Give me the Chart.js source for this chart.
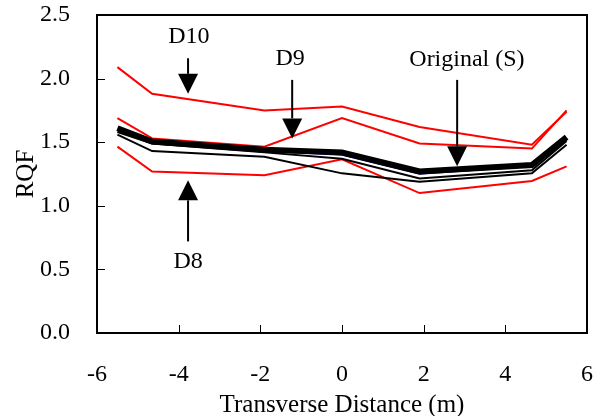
<!DOCTYPE html>
<html>
<head>
  <title>RQF vs Transverse Distance</title>
  <style>
    body { margin: 0; background: #fff; }
    .chart { width: 602px; height: 416px; }
  </style>
  <script src="https://cdn.jsdelivr.net/npm/chart.js"></script>
</head>
<body>
  <div class="chart">
    <canvas id="rqfChart"></canvas>
  </div>
  <script>
    // transverse positions (m)
    const distances = [-5.5, -4.65, -1.9, 0, 1.9, 4.65, 5.5];

    // red cases
    const d10 = [2.09, 1.88, 1.75, 1.78, 1.62, 1.48, 1.74];
    const d9 = [1.69, 1.53, 1.465, 1.69, 1.49, 1.45, 1.75];
    const d8 = [1.465, 1.27, 1.24, 1.365, 1.10, 1.195, 1.31];

    // black cases
    const original = [1.61, 1.505, 1.44, 1.42, 1.27, 1.32, 1.54];
    const blueCase = [1.60, 1.49, 1.43, 1.40, 1.25, 1.31, 1.53];
    const blackA = [1.58, 1.49, 1.42, 1.37, 1.215, 1.28, 1.51];
    const blackB = [1.56, 1.43, 1.385, 1.255, 1.19, 1.255, 1.48];

    const xTicks = [-6, -4, -2, 0, 2, 4, 6];
    const yTicks = [0, 0.5, 1.0, 1.5, 2.0, 2.5];

    // annotation labels: text position, arrow start, arrow tip (data units)
    const labels = [
      { text: 'D10', tx: -3.75, ty: 2.33, ax: -3.77, y0: 2.16, y1: 1.88 },
      { text: 'D9', tx: -1.27, ty: 2.16, ax: -1.22, y0: 1.99, y1: 1.53 },
      { text: 'Original (S)', tx: 3.06, ty: 2.15, ax: 2.82, y0: 1.99, y1: 1.31 },
      { text: 'D8', tx: -3.77, ty: 0.56, ax: -3.77, y0: 0.72, y1: 1.20 }
    ];

    const FONT = '"Liberation Serif", "Times New Roman", serif';

    function pts(ys) {
      return distances.map((x, i) => ({ x: x, y: ys[i] }));
    }

    function line(label, ys, color, width) {
      return {
        label: label,
        data: pts(ys),
        borderColor: color,
        borderWidth: width,
        pointRadius: 0,
        tension: 0,
        fill: false
      };
    }

    // box, inward ticks, arrows and labels
    const decor = {
      id: 'decor',
      afterDraw(chart) {
        const ctx = chart.ctx;
        const a = chart.chartArea;
        const xs = chart.scales.x;
        const ys = chart.scales.y;
        ctx.save();
        ctx.strokeStyle = '#000';
        ctx.lineWidth = 2;
        ctx.strokeRect(a.left, a.top, a.right - a.left, a.bottom - a.top);

        ctx.lineWidth = 1;
        ctx.beginPath();
        xTicks.forEach(v => {
          const px = Math.round(xs.getPixelForValue(v)) + 0.5;
          ctx.moveTo(px, a.bottom);
          ctx.lineTo(px, a.bottom - 8);
        });
        yTicks.forEach(v => {
          const py = Math.round(ys.getPixelForValue(v)) + 0.5;
          ctx.moveTo(a.left, py);
          ctx.lineTo(a.left + 8, py);
        });
        ctx.stroke();

        ctx.fillStyle = '#000';
        ctx.font = '24px ' + FONT;
        ctx.textAlign = 'center';
        ctx.textBaseline = 'middle';
        labels.forEach(l => {
          ctx.fillText(l.text, xs.getPixelForValue(l.tx), ys.getPixelForValue(l.ty));
          const x = xs.getPixelForValue(l.ax);
          const p0 = ys.getPixelForValue(l.y0);
          const p1 = ys.getPixelForValue(l.y1);
          const dir = p1 > p0 ? 1 : -1;
          const head = 20;
          ctx.lineWidth = 2;
          ctx.beginPath();
          ctx.moveTo(x, p0);
          ctx.lineTo(x, p1 - dir * head);
          ctx.stroke();
          ctx.beginPath();
          ctx.moveTo(x, p1);
          ctx.lineTo(x - 10, p1 - dir * head);
          ctx.lineTo(x + 10, p1 - dir * head);
          ctx.closePath();
          ctx.fill();
        });
        ctx.restore();
      }
    };

    new Chart(document.getElementById('rqfChart'), {
      type: 'line',
      data: {
        datasets: [
          line('Original (S)', original, '#000000', 6),
          line('Blue', blueCase, '#000080', 1.5),
          line('A', blackA, '#000000', 2),
          line('B', blackB, '#000000', 2),
          line('D10', d10, '#ff0000', 2),
          line('D9', d9, '#ff0000', 2),
          line('D8', d8, '#ff0000', 2)
        ]
      },
      options: {
        responsive: true,
        maintainAspectRatio: false,
        animation: false,
        layout: { padding: { top: 15, right: 15, left: 0, bottom: 0 } },
        plugins: {
          legend: { display: false },
          tooltip: { enabled: false }
        },
        scales: {
          x: {
            type: 'linear',
            min: -6,
            max: 6,
            afterBuildTicks: s => { s.ticks = xTicks.map(v => ({ value: v })); },
            afterFit: s => { s.height = 83; s.paddingLeft = 0; s.paddingRight = 0; },
            grid: { display: false },
            border: { display: false },
            ticks: {
              color: '#000',
              font: { family: FONT, size: 24 },
              padding: 19,
              maxRotation: 0
            },
            title: {
              display: true,
              text: 'Transverse Distance (m)',
              color: '#000',
              font: { family: FONT, size: 25 },
              padding: { top: 0, bottom: -4 }
            }
          },
          y: {
            min: 0,
            max: 2.5,
            afterBuildTicks: s => { s.ticks = yTicks.map(v => ({ value: v })); },
            afterFit: s => { s.width = 97; s.paddingTop = 0; s.paddingBottom = 0; },
            grid: { display: false },
            border: { display: false },
            ticks: {
              color: '#000',
              font: { family: FONT, size: 24 },
              padding: 19,
              callback: v => Number(v).toFixed(1)
            },
            title: {
              display: true,
              text: 'RQF',
              color: '#000',
              font: { family: FONT, size: 25 },
              padding: { top: 11, bottom: 0 }
            }
          }
        }
      },
      plugins: [decor]
    });
  </script>
</body>
</html>
